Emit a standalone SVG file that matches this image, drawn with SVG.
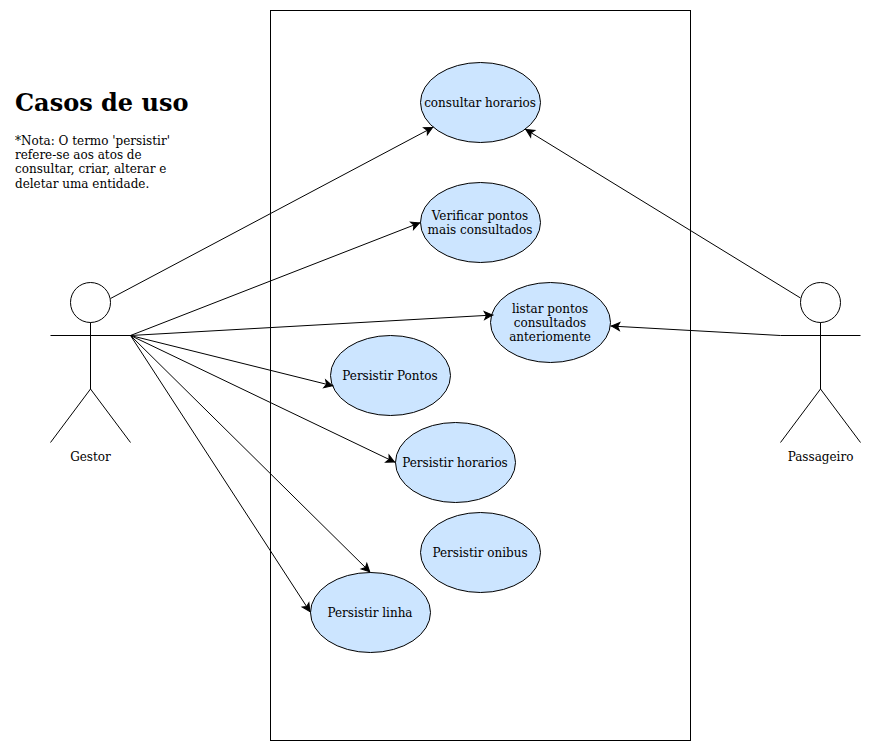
<svg xmlns="http://www.w3.org/2000/svg" width="871" height="752" viewBox="0 0 871 752">
<style>
text{font-family:"DejaVu Serif","Liberation Serif",serif;font-size:12px;fill:#000;text-anchor:middle;opacity:.999}
.l{text-anchor:start}
.t{font-size:24px;font-weight:bold}
.uc{fill:#cce5ff;stroke:#000}
.a{fill:#fff;stroke:#000}
.s{fill:none;stroke:#000}
.c{fill:none;stroke:#000;marker-end:url(#arrow)}
</style>
<defs>
<marker id="arrow" markerUnits="userSpaceOnUse" markerWidth="14" markerHeight="14" refX="11.100" refY="7" orient="auto" overflow="visible">
<path d="M10 7L2 11L4 7L2 3Z" fill="#000" stroke="#000"/>
</marker>
</defs>
<rect id="system" x="270.500" y="10.500" width="420" height="730" fill="#fff" stroke="#000"/>
<g id="title">
<text class="l t" x="15" y="111">Casos de uso</text>
<text class="l" x="15" y="145">*Nota: O termo 'persistir'</text>
<text class="l" x="15" y="159">refere-se aos atos de</text>
<text class="l" x="15" y="173">consultar, criar, alterar e</text>
<text class="l" x="15" y="188">deletar uma entidade.</text>
</g>
<g id="gestor">
<circle class="a" cx="90.500" cy="302.500" r="20"/>
<path class="s" d="M90.500 322.500V389M50.500 335.500H130.500M50.500 442.500L90.500 389L130.500 442.500"/>
<text x="90.500" y="461">Gestor</text>
</g>
<g id="passageiro">
<circle class="a" cx="820.500" cy="302.500" r="20"/>
<path class="s" d="M820.500 322.500V389M780.500 335.500H860.500M780.500 442.500L820.500 389L860.500 442.500"/>
<text x="820.500" y="461">Passageiro</text>
</g>
<g id="uc-consultar">
<ellipse class="uc" cx="480.500" cy="102.500" rx="60" ry="40"/>
<text x="480" y="106.500">consultar horarios</text>
</g>
<g id="uc-verificar">
<ellipse class="uc" cx="480.500" cy="222.500" rx="60" ry="40"/>
<text x="480" y="220">Verificar pontos</text>
<text x="480" y="234">mais consultados</text>
</g>
<g id="uc-listar">
<ellipse class="uc" cx="550.500" cy="322.500" rx="60" ry="40"/>
<text x="550" y="313">listar pontos</text>
<text x="550" y="327">consultados</text>
<text x="550" y="341">anteriomente</text>
</g>
<g id="uc-pontos">
<ellipse class="uc" cx="390.500" cy="375.500" rx="60" ry="40"/>
<text x="390" y="380">Persistir Pontos</text>
</g>
<g id="uc-horarios">
<ellipse class="uc" cx="455.500" cy="462.500" rx="60" ry="40"/>
<text x="455" y="467">Persistir horarios</text>
</g>
<g id="uc-onibus">
<ellipse class="uc" cx="480.500" cy="552.500" rx="60" ry="40"/>
<text x="480" y="557">Persistir onibus</text>
</g>
<g id="uc-linha">
<ellipse class="uc" cx="370.500" cy="612.500" rx="60" ry="40"/>
<text x="370" y="617">Persistir linha</text>
</g>
<g id="connectors">
<path class="c" d="M110.500 298.500L433.500 127"/>
<path class="c" d="M130.500 335.500L420.500 222.500"/>
<path class="c" d="M130.500 335.500L493.500 315"/>
<path class="c" d="M130.500 335.500L333.500 386"/>
<path class="c" d="M130.500 335.500L395.500 462.500"/>
<path class="c" d="M130.500 335.500L370.500 572.500"/>
<path class="c" d="M130.500 335.500L310.500 612.500"/>
<path class="c" d="M800.500 298L525 129"/>
<path class="c" d="M780.500 335.500L610.500 326"/>
</g>
</svg>
